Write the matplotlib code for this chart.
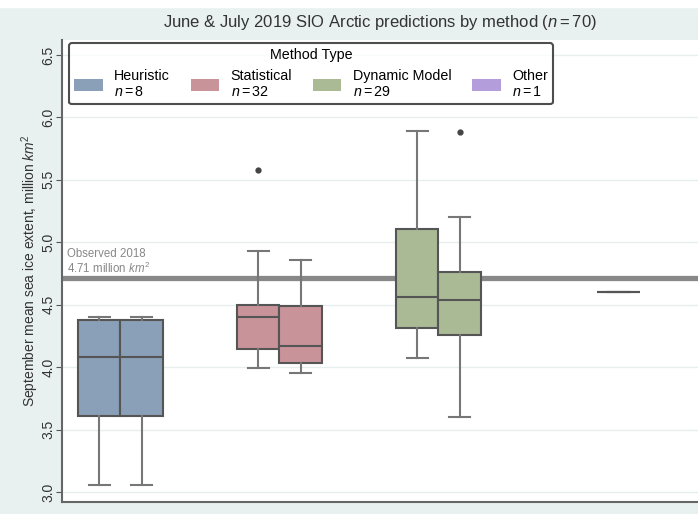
import matplotlib.pyplot as plt
from matplotlib.patches import Patch

# predictions (million km^2) by method type and month
heuristic_june = [3.06, 3.79, 4.37, 4.40]
heuristic_july = [3.06, 3.79, 4.37, 4.40]
statistical_june = [3.99, 4.05, 4.10, 4.13, 4.15, 4.25, 4.33, 4.38,
                    4.42, 4.45, 4.48, 4.50, 4.50, 4.70, 4.93, 5.58]
statistical_july = [3.95, 3.98, 4.00, 4.02, 4.04, 4.08, 4.12, 4.15,
                    4.19, 4.25, 4.35, 4.48, 4.52, 4.60, 4.75, 4.86]
dynamic_june = [4.07, 4.15, 4.25, 4.30, 4.34, 4.45, 4.52, 4.60,
                4.75, 5.05, 5.13, 5.30, 5.55, 5.89]
dynamic_july = [3.60, 4.10, 4.20, 4.24, 4.28, 4.38, 4.48, 4.54,
                4.60, 4.68, 4.74, 4.78, 4.95, 5.20, 5.88]
other_july = [4.60]

methods = ["Heuristic", "Statistical", "Dynamic Model", "Other"]
counts = [8, 32, 29, 1]
colors = ["#8aa0b8", "#c9939a", "#a9ba95", "#b39ddb"]
observed_2018 = 4.71
n_total = 70


def main():
    plt.rcParams["font.family"] = ["Liberation Sans", "DejaVu Sans"]
    plt.rcParams["mathtext.fontset"] = "custom"
    plt.rcParams["mathtext.it"] = "Liberation Sans:italic"
    plt.rcParams["mathtext.rm"] = "Liberation Sans"

    fig = plt.figure(figsize=(6.98, 5.14), dpi=100, facecolor="#e9f0f0")
    ax = fig.add_axes([62 / 698, 12 / 514, 1.0, 462 / 514])
    ax.set_facecolor("white")

    # (data, method index, hue offset) -- three hue slots of width 0.8/3
    slot = 0.8 / 3
    groups = [
        (heuristic_june, 0, -slot), (heuristic_july, 0, 0.0),
        (statistical_june, 1, -slot), (statistical_july, 1, 0.0),
        (dynamic_june, 2, -slot), (dynamic_july, 2, 0.0),
        (other_july, 3, 0.0),
    ]

    ax.axhline(observed_2018, color="#888888", lw=3.8, zorder=1)

    for data, mi, off in groups:
        bp = ax.boxplot([data], positions=[mi + off], widths=slot,
                        patch_artist=True, whis=1.5,
                        boxprops=dict(facecolor=colors[mi], edgecolor="#555555", lw=1.5),
                        medianprops=dict(color="#555555", lw=1.5),
                        whiskerprops=dict(color="#777777", lw=1.5),
                        capprops=dict(color="#777777", lw=1.5),
                        flierprops=dict(marker="o", markersize=3.5,
                                        markerfacecolor="#444444",
                                        markeredgecolor="#444444"))
        for b in bp["boxes"]:
            b.set_zorder(2)

    ax.text(-0.47, observed_2018 + 0.02, "Observed 2018\n4.71 million $km^2$",
            color="#888888", fontsize=8.3, va="bottom", ha="left", linespacing=1.1)

    ax.set_xlim(-0.5, 3.5 + 4 * 62 / 636)
    ax.set_ylim(2.92, 6.62)
    ax.set_yticks([3.0, 3.5, 4.0, 4.5, 5.0, 5.5, 6.0, 6.5])
    ax.set_xticks([])
    ax.grid(axis="y", color="#e6eeee", lw=1)
    ax.set_axisbelow(True)
    for lbl in ax.get_yticklabels():
        lbl.set_rotation(90)
        lbl.set_va("center")
    ax.tick_params(axis="y", colors="#555555", labelsize=10, length=4, pad=0.8,
                   labelcolor="#333333")
    for side in ["top", "right"]:
        ax.spines[side].set_visible(False)
    for side in ["left", "bottom"]:
        ax.spines[side].set_color("#666666")
        ax.spines[side].set_linewidth(1.5)

    ax.set_ylabel("September mean sea ice extent, million $km^2$", fontsize=10,
                  color="#333333", labelpad=0)

    handles = [Patch(facecolor=c, edgecolor="none") for c in colors]
    labels = [f"{m}\n$n = {n}$" for m, n in zip(methods, counts)]
    leg = ax.legend(handles, labels, title="Method Type", ncol=4,
                    loc="upper left", bbox_to_anchor=(0.01, 1 - 3 / 462),
                    borderaxespad=0, fontsize=10.3, title_fontsize=10.3,
                    frameon=True, handlelength=2.0, handleheight=0.9,
                    handletextpad=0.8, columnspacing=1.45,
                    borderpad=0.35, fancybox=True)
    leg.get_frame().set_edgecolor("#222222")
    leg.get_frame().set_linewidth(1.5)

    fig.text(380 / 698, 1 - 22 / 514,
             "June & July 2019 SIO Arctic predictions by method ($n = %d$)" % n_total,
             ha="center", va="center", fontsize=12, color="#333333")

    # white strip at the very top of the screenshot
    fig.patches.append(plt.Rectangle((0, 1 - 7 / 514), 1, 7 / 514,
                                     transform=fig.transFigure, color="white",
                                     zorder=0))

    fig.savefig("out.png", dpi=100, facecolor=fig.get_facecolor())


if __name__ == "__main__":
    main()
